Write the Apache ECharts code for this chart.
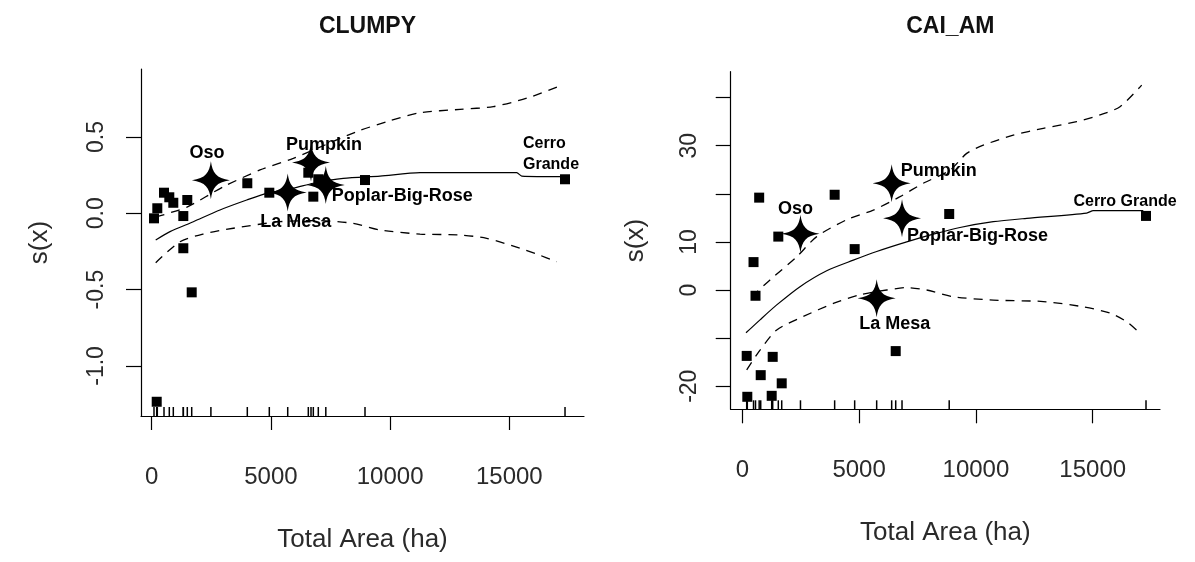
<!DOCTYPE html>
<html>
<head>
<meta charset="utf-8">
<script src="https://cdn.jsdelivr.net/npm/echarts@6/dist/echarts.min.js"></script>
<style>
  html, body { margin: 0; padding: 0; background: #fff; }
  #chart { width: 1195px; height: 562px; }
</style>
</head>
<body>
<div id="chart"></div>
<script>
// ---------- CLUMPY panel ----------
const clumpySitesX = [96, 235, 516, 738, 906, 1493, 1326, 1326, 1678, 210, 4010, 4933, 6569, 6988, 6779, 8947, 17337];
const clumpySitesY = [-0.033, 0.033, 0.135, 0.105, 0.069, 0.087, -0.018, -0.229, -0.518, -1.235, 0.197, 0.135, 0.266, 0.223, 0.109, 0.218, 0.223];
const clumpyFiresName = ['Oso', 'Pumpkin', 'La Mesa', 'Poplar-Big-Rose'];
const clumpyFiresX = [2483, 6682, 5705, 7303];
const clumpyFiresY = [0.216, 0.333, 0.136, 0.185];
const clumpyFitX = [168, 768, 1745, 2865, 3985, 4824, 5940, 6779, 8037, 9577, 11255, 15310, 15520, 17265];
const clumpyFitY = [-0.175, -0.12, -0.055, 0.022, 0.087, 0.131, 0.164, 0.197, 0.229, 0.244, 0.266, 0.266, 0.244, 0.24];
const clumpyUpperX = [168, 1481, 3003, 4543, 5940, 8599, 9857, 11254, 12932, 14329, 15730, 17127];
const clumpyUpperY = [-0.024, 0.041, 0.174, 0.284, 0.36, 0.535, 0.6, 0.659, 0.681, 0.699, 0.754, 0.834];
const clumpyLowerX = [168, 1187, 2164, 3423, 5381, 7060, 8457, 9577, 11254, 12932, 14050, 15449, 16149, 16988];
const clumpyLowerY = [-0.324, -0.186, -0.136, -0.098, -0.055, -0.048, -0.066, -0.109, -0.136, -0.142, -0.164, -0.229, -0.267, -0.317];
const clumpyYTicks = [-1.0, -0.5, 0.0, 0.5];

// ---------- CAI_AM panel ----------
const caiSitesX = [722, 3953, 1541, 4810, 480, 565, 8857, 17282, 6567, 188, 1301, 788, 1687, 214, 1258];
const caiSitesY = [19.2, 19.8, 11.1, 8.5, 5.8, -1.2, 15.8, 15.4, -12.7, -13.7, -13.9, -17.7, -19.4, -22.2, -22.0];
const caiFiresName = ['Oso', 'Pumpkin', 'La Mesa', 'Poplar-Big-Rose'];
const caiFiresX = [2490, 6394, 5752, 6837];
const caiFiresY = [11.7, 22.2, -1.7, 14.9];
const caiFitX = [158, 758, 1473, 2470, 3613, 4752, 5753, 7038, 8177, 9319, 10745, 12175, 14743, 15026, 17166];
const caiFitY = [-8.9, -6.2, -3.1, 0.7, 4.0, 6.2, 8.0, 10.0, 11.6, 13.0, 14.2, 14.9, 16.0, 16.5, 16.5];
const caiUpperX = [402, 1186, 2329, 3185, 4469, 5608, 6751, 7749, 8891, 9606, 10317, 11601, 12885, 14315, 15312, 16169, 17097];
const caiUpperY = [-1.4, 2.1, 6.9, 11.1, 14.6, 16.6, 19.4, 22.2, 24.9, 28.4, 30.1, 32.2, 33.6, 35.0, 36.4, 38.1, 42.6];
const caiLowerX = [188, 758, 1473, 2612, 3896, 5039, 6182, 7038, 7894, 9033, 10745, 12885, 14597, 15740, 16455, 17025];
const caiLowerY = [-16.6, -12.5, -8.3, -5.5, -2.8, -1.0, 0.0, 0.5, 0.0, -1.4, -2.1, -2.4, -3.5, -4.8, -6.6, -9.0];
const caiYTicks = [-20, -10, 0, 10, 20, 30, 40];
const caiYLabels = [-20, 0, 10, 30];

const xTicks = [0, 5000, 10000, 15000];
const panelTitles = ['CLUMPY', 'CAI_AM'];
const xTitle = 'Total Area (ha)';
const yTitle = 's(x)';

// ---------- helpers ----------
const zip = (xs, ys) => xs.map((x, i) => [x, ys[i]]);
const FONT = 'Liberation Sans, Arial, sans-serif';
// four-pointed star with a solid core
const STAR = 'path://M50,0 C54,30 64,45 100,50 C64,55 54,70 50,100 C46,70 36,55 0,50 C36,45 46,30 50,0 Z';

const panels = [
  { left: 141, top: 69, right: 584, bottom: 416,
    xMin: -449, xMax: 18133, yMin: -1.3283, yMax: 0.9456,
    yTicks: clumpyYTicks, yLabels: clumpyYTicks,
    yFmt: v => v.toFixed(1), yLabelMargin: 33, yNameGap: 88,
    sites: zip(clumpySitesX, clumpySitesY),
    firesX: clumpyFiresX, firesY: clumpyFiresY, firesName: clumpyFiresName,
    fit: zip(clumpyFitX, clumpyFitY), upper: zip(clumpyUpperX, clumpyUpperY), lower: zip(clumpyLowerX, clumpyLowerY),
    fireLabels: {
      'Oso': { align: 'center', offset: [-4, -27] },
      'Pumpkin': { align: 'center', offset: [13, -17] },
      'La Mesa': { align: 'center', offset: [8, 29] },
      'Poplar-Big-Rose': { align: 'left', offset: [6, 11] }
    },
    cerro: { text: 'Cerro\nGrande', align: 'left', offset: [-42, -25], size: 16 }
  },
  { left: 730.7, top: 71.7, right: 1160, bottom: 409.3,
    xMin: -497, xMax: 17881, yMin: -24.8, yMax: 45.38,
    yTicks: caiYTicks, yLabels: caiYLabels,
    yFmt: v => String(v), yLabelMargin: 30, yNameGap: 82,
    sites: zip(caiSitesX, caiSitesY),
    firesX: caiFiresX, firesY: caiFiresY, firesName: caiFiresName,
    fit: zip(caiFitX, caiFitY), upper: zip(caiUpperX, caiUpperY), lower: zip(caiLowerX, caiLowerY),
    fireLabels: {
      'Oso': { align: 'center', offset: [-5, -25] },
      'Pumpkin': { align: 'left', offset: [9, -12] },
      'La Mesa': { align: 'center', offset: [18, 26] },
      'Poplar-Big-Rose': { align: 'left', offset: [5, 18] }
    },
    cerro: { text: 'Cerro Grande', align: 'center', offset: [-21, -14], size: 16 }
  }
];

const grid = [], xAxis = [], yAxis = [], series = [], title = [];

panels.forEach((p, k) => {
  grid.push({ left: p.left, top: p.top, width: p.right - p.left, height: p.bottom - p.top, containLabel: false });
  title.push({
    text: panelTitles[k], left: (p.left + p.right) / 2, top: 10, textAlign: 'center',
    textStyle: { fontFamily: FONT, fontSize: 23, fontWeight: 'bold', color: '#111' }
  });
  xAxis.push({
    gridIndex: k, type: 'value', min: p.xMin, max: p.xMax,
    axisLine: { show: true, onZero: false, lineStyle: { color: '#000', width: 1.2 } },
    axisTick: { show: true, length: 14, customValues: xTicks, lineStyle: { color: '#000', width: 1.2 } },
    axisLabel: { customValues: xTicks, formatter: v => String(v), fontFamily: FONT, fontSize: 24, color: '#2a2a2a', margin: 49 },
    splitLine: { show: false },
    name: xTitle, nameLocation: 'middle', nameGap: 111,
    nameTextStyle: { fontFamily: FONT, fontSize: 26, color: '#2a2a2a' }
  });
  yAxis.push({
    gridIndex: k, type: 'value', min: p.yMin, max: p.yMax,
    axisLine: { show: true, onZero: false, lineStyle: { color: '#000', width: 1.2 } },
    axisTick: { show: true, length: 15, customValues: p.yTicks, lineStyle: { color: '#000', width: 1.2 } },
    axisLabel: {
      customValues: p.yLabels, formatter: p.yFmt, rotate: 90, align: 'center', verticalAlign: 'bottom',
      fontFamily: FONT, fontSize: 23, color: '#2a2a2a', margin: p.yLabelMargin
    },
    splitLine: { show: false },
    name: yTitle, nameLocation: 'middle', nameGap: p.yNameGap, nameRotate: 90,
    nameTextStyle: { fontFamily: FONT, fontSize: 26, color: '#2a2a2a' }
  });

  const common = { xAxisIndex: k, yAxisIndex: k, animation: false, silent: true };

  // fitted smooth and its confidence band
  series.push(Object.assign({}, common, {
    type: 'line', data: p.fit, showSymbol: false, smooth: 0.25,
    lineStyle: { color: '#000', width: 1.2 }
  }));
  [p.upper, p.lower].forEach(band => series.push(Object.assign({}, common, {
    type: 'line', data: band, showSymbol: false, smooth: 0.25,
    lineStyle: { color: '#000', width: 1.3, type: [9, 7] }
  })));

  // rug along the x axis
  const allX = p.sites.map(d => d[0]).concat(p.firesX);
  series.push(Object.assign({}, common, {
    type: 'scatter', clip: false, symbol: 'rect', symbolSize: [1.5, 9], symbolOffset: [0, -4.5],
    itemStyle: { color: '#000', opacity: 1 }, data: allX.map(x => [x, p.yMin])
  }));

  // partial residuals for the other sites
  const cerroIdx = p.sites.reduce((m, d, i) => (d[0] > p.sites[m][0] ? i : m), 0);
  series.push(Object.assign({}, common, {
    type: 'scatter', clip: false, symbol: 'rect', symbolSize: 10, itemStyle: { color: '#000', opacity: 1 },
    data: p.sites.map((d, i) => {
      if (i !== cerroIdx) return d;
      return {
        value: d,
        label: {
          show: true, position: 'inside', formatter: p.cerro.text, align: p.cerro.align,
          offset: p.cerro.offset, fontFamily: FONT, fontWeight: 'bold', fontSize: p.cerro.size,
          lineHeight: 21, color: '#000', opacity: 1
        }
      };
    })
  }));

  // named fires drawn as stars
  series.push(Object.assign({}, common, {
    type: 'scatter', clip: false, symbol: STAR, symbolSize: 38, itemStyle: { color: '#000', opacity: 1 }, z: 5,
    data: p.firesName.map((n, i) => ({
      name: n, value: [p.firesX[i], p.firesY[i]],
      label: {
        show: true, position: 'inside', formatter: n, align: p.fireLabels[n].align,
        offset: p.fireLabels[n].offset, fontFamily: FONT, fontWeight: 'bold', fontSize: 18,
        color: '#000', opacity: 1
      }
    }))
  }));
});

const chart = echarts.init(document.getElementById('chart'), null, { renderer: 'canvas' });
chart.setOption({ backgroundColor: '#fff', animation: false, title, grid, xAxis, yAxis, series });
</script>
</body>
</html>
